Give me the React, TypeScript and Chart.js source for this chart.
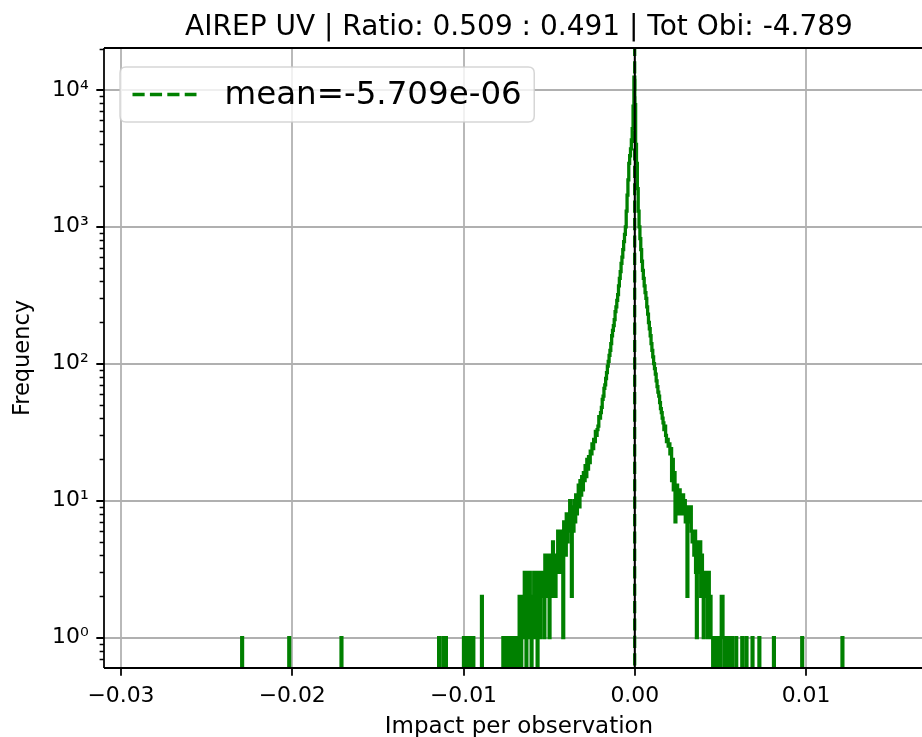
import React, { useEffect, useRef } from "react";
import { Chart, registerables } from "chart.js";

Chart.register(...registerables);

// ---------------- data ----------------
const titleText = "AIREP UV | Ratio: 0.509 : 0.491 | Tot Obi: -4.789";
const xAxisLabel = "Impact per observation";
const yAxisLabel = "Frequency";
const meanValue = -5.709e-6;
const legendLabel = "mean=-5.709e-06";

const binWidth = 0.00005;
// counts of the bins left of zero, going outward (bin -1, -2, -3, ...)
const leftCounts = [
  12400, 7600, 5200, 4300, 3700, 3300, 2900, 2200, 1700, 1300,
  1000, 880, 780, 680, 600, 540, 470, 420, 370, 320,
  290, 260, 240, 210, 190, 175, 160, 140, 125, 115,
  104, 96, 86, 78, 70, 66, 58, 55, 48, 44,
  40, 41, 35, 33, 30, 32, 27, 28, 24, 26,
  22, 23, 19, 21, 17, 20, 15, 18, 14, 16,
  12, 15, 11, 14, 9, 13, 10, 8, 11, 7,
  10, 6, 9, 2, 8, 10, 6, 7, 5, 8,
  4, 6, 7, 1, 5, 6, 3, 5, 4, 6,
  3, 4, 2, 4, 3, 5, 2, 4, 3, 1,
  4, 3, 2, 3, 4, 1, 3, 2, 3, 3,
  1, 2, 3, 0, 3, 2, 1, 3, 2, 1,
  0, 2, 3, 3, 1, 3, 0, 2, 3, 2,
  1, 2, 0, 1, 2, 0, 1, 0, 1, 1,
  0, 0, 1, 0, 1, 0, 0, 1, 0, 1,
  0, 0, 0, 1,
];
// counts of the bins right of zero, going outward (bin 0, 1, 2, ...)
const rightCounts = [
  7800, 4000, 2900, 1900, 1300, 1000, 820, 680, 560, 480,
  420, 370, 330, 300, 260, 230, 200, 180, 160, 140,
  125, 112, 100, 92, 84, 75, 68, 62, 58, 52,
  47, 44, 40, 37, 33, 35, 30, 27, 28, 25,
  26, 22, 24, 14, 20, 12, 16, 7, 11, 13,
  9, 8, 12, 9, 10, 8, 11, 9, 10, 7,
  9, 2, 8, 9, 7, 9, 6, 5, 6, 4,
  6, 3, 1, 5, 3, 4, 5, 2, 4, 3,
  1, 3, 3, 2, 3, 1, 3, 1, 2, 1,
  1, 0, 1, 1, 0, 1, 1, 0, 1, 0,
  1, 2, 2, 1, 0, 1, 1, 0, 0, 1,
  1, 0, 0, 1,
];
// isolated bins far in the tails (bin index, count)
const outlierBins = [-459, -404, -343, -229, -224, -221, -200, -196, -193, -189, -179, 118, 125, 130, 137, 145, 162, 195, 242];
const outlierCounts = [1, 1, 1, 1, 1, 1, 1, 1, 1, 1, 2, 1, 1, 1, 1, 1, 1, 1, 1];

const xTicks = [-0.03, -0.02, -0.01, 0, 0.01];
const xTickLabels = ["\u22120.03", "\u22120.02", "\u22120.01", "0.00", "0.01"];
const yTicks = [1, 10, 100, 1000, 10000];
const yTickLabels = ["10\u2070", "10\u00B9", "10\u00B2", "10\u00B3", "10\u2074"];
const xMin = -0.03099;
const xMax = 0.027163; // axis continues past the right edge of the picture
const yMin = 0.626;
const yMax = 20200;
const zeroFloor = 0.001; // stands for an empty bin (drawn below the axis)

// ---------------- styles ----------------
const FONT = "'DejaVu Sans', sans-serif";
const PT = 2.19; // px per pt
const GREEN = "#008000";
const CANVAS_W = 1120;
const AREA_RIGHT = 1100;
const TEXT_CENTER_RIGHT = 934; // titles are centred as if the axes ended here

const axesPlugin = {
  id: "mplAxes",
  beforeDatasetsDraw(chart: any) {
    const { ctx, chartArea: a, scales } = chart;
    ctx.save();
    ctx.strokeStyle = "#b0b0b0";
    ctx.lineWidth = 0.8 * PT;
    ctx.beginPath();
    xTicks.forEach((v) => {
      const px = Math.round(scales.x.getPixelForValue(v));
      ctx.moveTo(px, a.top);
      ctx.lineTo(px, a.bottom);
    });
    yTicks.forEach((v) => {
      const py = Math.round(scales.y.getPixelForValue(v));
      ctx.moveTo(a.left, py);
      ctx.lineTo(a.right, py);
    });
    ctx.stroke();
    ctx.restore();
  },
  afterDraw(chart: any) {
    const { ctx, chartArea: a, scales } = chart;
    const y = scales.y;
    ctx.save();
    // title and x label
    const cx = (a.left + TEXT_CENTER_RIGHT) / 2;
    ctx.fillStyle = "#000";
    ctx.textAlign = "center";
    ctx.textBaseline = "middle";
    ctx.font = `28px ${FONT}`;
    ctx.fillText(titleText, cx, 11 + (28 * 1.2) / 2);
    ctx.font = `23px ${FONT}`;
    ctx.fillText(xAxisLabel, cx, chart.height - (23 * 0.85) / 2);

    ctx.strokeStyle = "#000";
    // major ticks
    ctx.lineWidth = 0.8 * PT;
    ctx.beginPath();
    xTicks.forEach((v) => {
      const px = Math.round(scales.x.getPixelForValue(v));
      ctx.moveTo(px, a.bottom);
      ctx.lineTo(px, a.bottom + 3.5 * PT);
    });
    yTicks.forEach((v) => {
      const py = Math.round(y.getPixelForValue(v));
      ctx.moveTo(a.left - 3.5 * PT, py);
      ctx.lineTo(a.left, py);
    });
    ctx.stroke();
    // minor ticks on log axis
    ctx.lineWidth = 0.6 * PT;
    ctx.beginPath();
    for (let d = -1; d <= 4; d++) {
      for (let m = 2; m <= 9; m++) {
        const v = m * Math.pow(10, d);
        if (v < yMin || v > yMax) continue;
        const py = Math.round(y.getPixelForValue(v)) + 0.5;
        ctx.moveTo(a.left - 2 * PT, py);
        ctx.lineTo(a.left, py);
      }
    }
    ctx.stroke();
    // spines (left, bottom, top; the right one lies outside the picture)
    ctx.lineWidth = 0.8 * PT;
    ctx.beginPath();
    ctx.moveTo(a.left, a.top);
    ctx.lineTo(a.left, a.bottom);
    ctx.moveTo(a.left, a.bottom);
    ctx.lineTo(a.right, a.bottom);
    ctx.moveTo(a.left, a.top);
    ctx.lineTo(a.right, a.top);
    ctx.stroke();

    // legend
    const fs = 32.5;
    ctx.font = `${fs}px ${FONT}`;
    const tw = ctx.measureText(legendLabel).width;
    const pad = 12.5;
    const hl = 64;
    const htp = 28;
    const x0 = a.left + 16;
    const y0 = a.top + 19;
    const h = 55;
    const w = 2 * pad + hl + htp + tw;
    const r = 6;
    ctx.beginPath();
    ctx.moveTo(x0 + r, y0);
    ctx.lineTo(x0 + w - r, y0);
    ctx.quadraticCurveTo(x0 + w, y0, x0 + w, y0 + r);
    ctx.lineTo(x0 + w, y0 + h - r);
    ctx.quadraticCurveTo(x0 + w, y0 + h, x0 + w - r, y0 + h);
    ctx.lineTo(x0 + r, y0 + h);
    ctx.quadraticCurveTo(x0, y0 + h, x0, y0 + h - r);
    ctx.lineTo(x0, y0 + r);
    ctx.quadraticCurveTo(x0, y0, x0 + r, y0);
    ctx.closePath();
    ctx.fillStyle = "rgba(255,255,255,0.8)";
    ctx.fill();
    ctx.strokeStyle = "rgba(204,204,204,0.8)";
    ctx.lineWidth = 1.5;
    ctx.stroke();
    const cy = y0 + h / 2;
    ctx.strokeStyle = GREEN;
    ctx.lineWidth = 1.5 * PT;
    ctx.setLineDash([3.7 * 1.5 * PT, 1.6 * 1.5 * PT]);
    ctx.beginPath();
    ctx.moveTo(x0 + pad, cy);
    ctx.lineTo(x0 + pad + hl, cy);
    ctx.stroke();
    ctx.setLineDash([]);
    ctx.fillStyle = "#000";
    ctx.textBaseline = "middle";
    ctx.textAlign = "left";
    ctx.fillText(legendLabel, x0 + pad + hl + htp, cy + 1);
    ctx.restore();
  },
};

function buildHistogram() {
  const counts = new Map<number, number>();
  leftCounts.forEach((c, i) => counts.set(-(i + 1), c));
  rightCounts.forEach((c, i) => counts.set(i, c));
  outlierBins.forEach((b, i) => counts.set(b, outlierCounts[i]));
  const keys = Array.from(counts.keys());
  const kMin = Math.min(...keys);
  const kMax = Math.max(...keys);
  const pts: { x: number; y: number }[] = [{ x: kMin * binWidth, y: zeroFloor }];
  for (let k = kMin; k <= kMax; k++) {
    const c = counts.get(k) ?? 0;
    pts.push({ x: k * binWidth, y: c > 0 ? c : zeroFloor });
  }
  pts.push({ x: (kMax + 1) * binWidth, y: zeroFloor });
  return pts;
}

function HistChart() {
  const ref = useRef<HTMLCanvasElement>(null);
  useEffect(() => {
    if (!ref.current) return;
    const hist = buildHistogram();
    const chart = new Chart(ref.current, {
      type: "line",
      data: {
        datasets: [
          {
            label: "zero",
            data: [
              { x: 0, y: zeroFloor },
              { x: 0, y: yMax * 10 },
            ],
            borderColor: "#000",
            borderWidth: 2,
            pointRadius: 0,
            clip: 0,
          } as any,
          {
            label: legendLabel,
            data: [
              { x: meanValue, y: zeroFloor },
              { x: meanValue, y: yMax * 10 },
            ],
            borderColor: GREEN,
            borderWidth: 1.5 * PT,
            borderDash: [3.7 * 1.5 * PT, 1.6 * 1.5 * PT],
            pointRadius: 0,
            clip: 0,
          } as any,
          {
            label: "hist",
            data: hist,
            borderColor: GREEN,
            borderWidth: 1.5 * PT,
            stepped: true,
            pointRadius: 0,
            borderJoinStyle: "miter",
            clip: 0,
          } as any,
        ],
      },
      options: {
        responsive: false,
        animation: false,
        events: [],
        layout: { padding: { left: 0, right: CANVAS_W - AREA_RIGHT, top: 48, bottom: 0 } },
        plugins: {
          legend: { display: false },
          tooltip: { enabled: false },
          title: { display: false },
        },
        scales: {
          x: {
            type: "linear",
            min: xMin,
            max: xMax,
            afterBuildTicks: (s: any) => {
              s.ticks = xTicks.map((v) => ({ value: v }));
            },
            afterFit: (s: any) => {
              s.height = 69;
            },
            ticks: {
              color: "#000",
              font: { family: FONT, size: 10 * PT },
              padding: 3.5 * PT,
              maxRotation: 0,
              autoSkip: false,
              callback: (v: any) => {
                const i = xTicks.findIndex((t) => Math.abs(t - v) < 1e-9);
                return i >= 0 ? xTickLabels[i] : "";
              },
            },
            grid: { display: false, drawTicks: true, tickLength: 3.5 * PT },
            border: { display: false },
            title: { display: false },
          },
          y: {
            type: "logarithmic",
            min: yMin,
            max: yMax,
            afterBuildTicks: (s: any) => {
              s.ticks = yTicks.map((v) => ({ value: v, major: true }));
            },
            afterFit: (s: any) => {
              s.width = 104;
            },
            ticks: {
              color: "#000",
              font: { family: FONT, size: 10 * PT },
              padding: 3.5 * PT,
              autoSkip: false,
              callback: (v: any) => {
                const i = yTicks.findIndex((t) => Math.abs(t - v) < 1e-6 * t);
                return i >= 0 ? yTickLabels[i] : "";
              },
            },
            grid: { display: false, drawTicks: true, tickLength: 3.5 * PT },
            border: { display: false },
            title: {
              display: true,
              text: yAxisLabel,
              color: "#000",
              font: { family: FONT, size: 22.5, lineHeight: 1.2 },
              padding: { top: 10, bottom: 0 },
            },
          },
        },
      },
      plugins: [axesPlugin],
    });
    return () => chart.destroy();
  }, []);
  return <canvas ref={ref} width={CANVAS_W} height={737} style={{ display: "block" }} />;
}

export default function App() {
  return (
    <div
      style={{
        position: "fixed",
        left: 0,
        top: 0,
        width: 922,
        height: 737,
        overflow: "hidden",
        background: "#fff",
      }}
    >
      <HistChart />
    </div>
  );
}
